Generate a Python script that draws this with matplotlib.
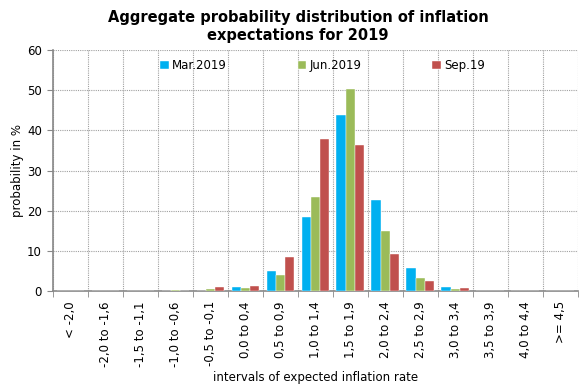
import numpy as np
import matplotlib
matplotlib.use("Agg")
import matplotlib.pyplot as plt

categories = ["< -2,0", "-2,0 to -1,6", "-1,5 to -1,1", "-1,0 to -0,6",
              "-0,5 to -0,1", "0,0 to 0,4", "0,5 to 0,9", "1,0 to 1,4",
              "1,5 to 1,9", "2,0 to 2,4", "2,5 to 2,9", "3,0 to 3,4",
              "3,5 to 3,9", "4,0 to 4,4", ">= 4,5"]
series_names = ["Mar.2019", "Jun.2019", "Sep.19"]
mar_2019 = [0, 0, 0, 0, 0, 1.0, 5.0, 18.5, 43.8, 22.8, 5.8, 1.2, 0, 0, 0]
jun_2019 = [0, 0, 0, 0.3, 0.5, 0.9, 4.1, 23.5, 50.2, 15.1, 3.3, 0.5, 0, 0, 0]
sep_19 = [0, 0, 0, 0, 1.0, 1.4, 8.5, 37.9, 36.5, 9.4, 2.7, 0.9, 0, 0, 0]
colors = ["#00B0F0", "#9BBB59", "#C0504D"]

plt.rcParams["font.family"] = ["DejaVu Sans"]

fig = plt.figure(figsize=(5.79, 3.87), dpi=100)
ax = fig.add_axes([0.0915, 0.2468, 0.9065, 0.624])

x = np.arange(len(categories))
w = 0.265
for i, (vals, name, col) in enumerate(zip([mar_2019, jun_2019, sep_19], series_names, colors)):
    ax.bar(x + (i - 1) * w, vals, width=w, color=col, edgecolor="white",
           linewidth=0.3, label=name, zorder=3)

ax.set_xlim(-0.5, len(categories) - 0.5)
ax.set_ylim(0, 60)
ax.set_yticks(np.arange(0, 61, 10))
ax.set_xticks(x)
ax.set_xticklabels(categories, rotation=90, fontsize=8.5)
ax.set_xticks(np.arange(-0.5, len(categories), 1), minor=True)
ax.tick_params(axis="x", which="major", length=0, pad=7)
ax.tick_params(axis="x", which="minor", length=4, color="#888888", direction="out")
ax.tick_params(axis="y", length=4, color="#888888", labelsize=8.5, pad=4)

ax.grid(True, axis="y", which="major", linestyle=(0, (1, 1)), color="#a0a0a0", linewidth=0.8, zorder=0)
ax.grid(True, axis="x", which="minor", linestyle=(0, (1, 1)), color="#a0a0a0", linewidth=0.8, zorder=0)
ax.grid(False, axis="x", which="major")

for s in ["top", "right"]:
    ax.spines[s].set_visible(False)
for s in ["left", "bottom"]:
    ax.spines[s].set_color("#888888")
    ax.spines[s].set_linewidth(1.2)

ax.set_ylabel("probability in %", fontsize=8.5, labelpad=2)
ax.set_xlabel("intervals of expected inflation rate", fontsize=8.5, labelpad=3)

fig.suptitle("Aggregate probability distribution of inflation\nexpectations for 2019",
             x=0.515, y=0.975, fontsize=10.5, fontweight="bold", linespacing=1.3)

leg = ax.legend(loc="upper center", bbox_to_anchor=(0.514, 1.005), ncol=3, frameon=False,
                fontsize=8.5, handlelength=0.7, handleheight=0.7, handletextpad=0.3,
                columnspacing=6.0)

fig.savefig("out.png", dpi=100)
